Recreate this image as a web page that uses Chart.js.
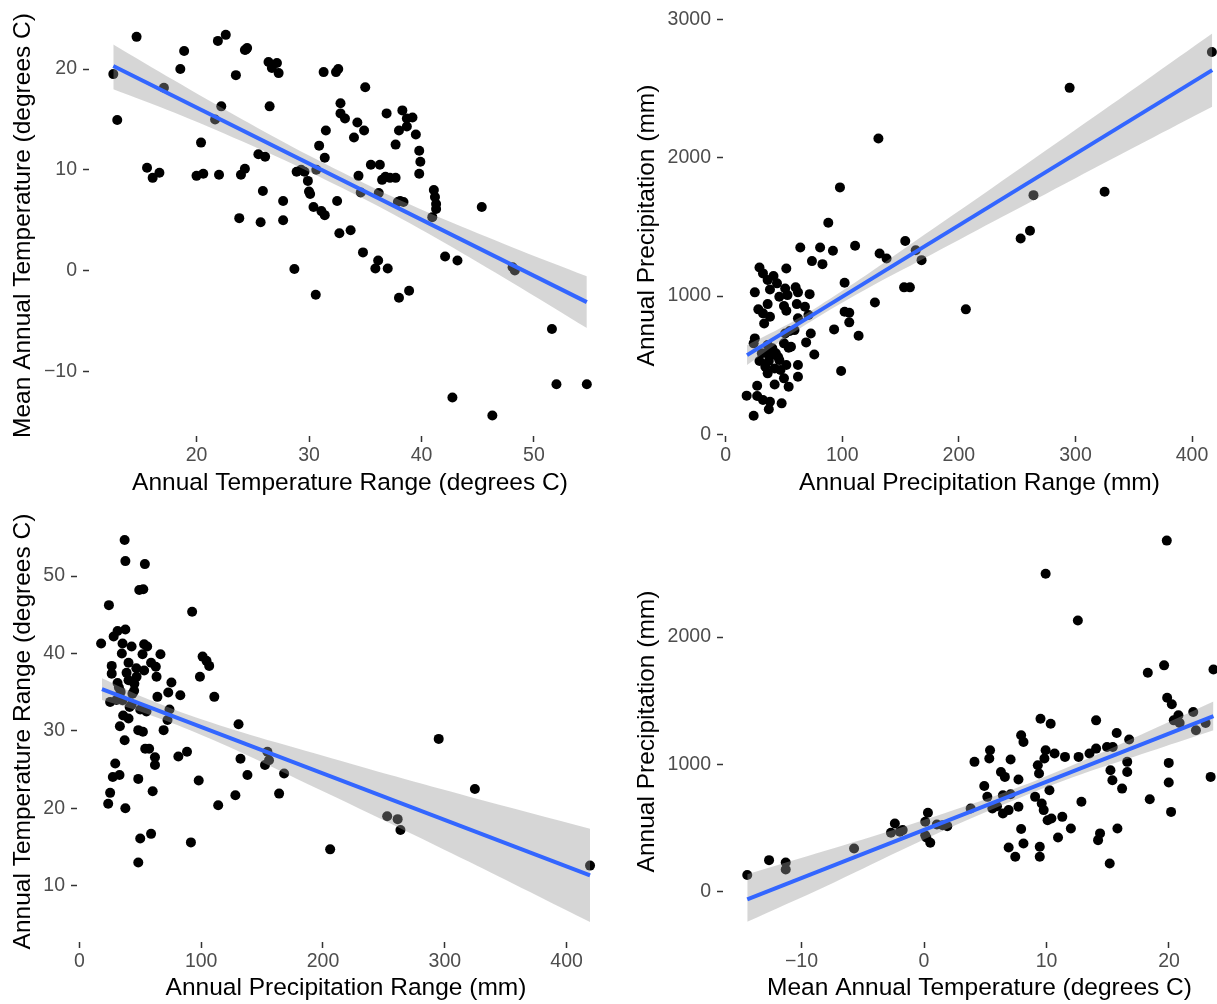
<!DOCTYPE html>
<html>
<head>
<meta charset="utf-8">
<script src="https://cdn.jsdelivr.net/npm/chart.js@4.4.1/dist/chart.umd.min.js"></script>
<style>
	html, body { margin: 0; padding: 0; background: #fff; }
	#page { position: relative; width: 1217px; height: 1004px; overflow: hidden; background: #fff; }
	#page canvas { position: absolute; }
</style>
</head>
<body>
<div id="page">
	<canvas id="panel-1" width="616" height="502" style="left:0;top:0"></canvas>
	<canvas id="panel-2" width="640" height="502" style="left:612px;top:0"></canvas>
	<canvas id="panel-3" width="620" height="502" style="left:0;top:502px"></canvas>
	<canvas id="panel-4" width="640" height="502" style="left:612px;top:502px"></canvas>
</div>
<script>
// --- panel 1: annual temperature range vs mean annual temperature ---
var p1TempRange = [
	12.6, 12.95, 14.67, 15.6, 16.1, 16.7, 17.1, 18.56, 18.9, 20.0,
	20.4, 20.6, 21.65, 21.9, 22.0, 22.2, 22.6, 23.5, 23.8, 23.95,
	24.3, 24.3, 24.5, 25.5, 25.9, 25.7, 26.1, 26.4, 26.5, 26.7,
	27.15, 27.3, 27.7, 27.7, 28.7, 28.9, 29.6, 29.9, 30.0, 30.1,
	30.4, 30.65, 30.9, 30.6, 31.1, 31.4, 31.4, 31.5, 31.3, 32.4,
	32.6, 32.5, 32.7, 32.8, 32.8, 33.2, 33.7, 34.0, 34.3, 34.4,
	34.6, 34.8, 34.9, 35.0, 35.5, 35.9, 36.2, 36.15, 36.3, 36.5,
	36.9, 37.0, 37.2, 37.7, 37.7, 37.9, 38.0, 38.3, 38.0, 38.4,
	38.7, 38.7, 38.9, 39.2, 39.5, 39.8, 39.9, 39.8, 41.1, 41.2,
	41.3, 41.3, 40.96, 42.1, 43.2, 42.75, 45.36, 46.3, 48.1, 48.3,
	51.6, 52.0, 54.7, 36.8, 38.1, 29.3, 24.4
];
var p1MeanTemp = [
	19.5, 14.95, 23.2, 10.2, 9.2, 9.7, 18.15, 20.0, 21.8, 9.4,
	12.7, 9.6, 15.0, 22.8, 9.5, 16.3, 23.4, 19.4, 5.2, 9.5,
	10.1, 21.9, 22.1, 11.55, 7.9, 4.8, 11.3, 20.7, 16.3, 20.1,
	20.6, 19.6, 6.9, 5.0, 0.15, 9.8, 9.8, 8.9, 7.85, 7.6,
	6.3, 10.0, 12.4, -2.4, 5.9, 5.5, 11.2, 13.9, 19.7, 19.7,
	20.0, 6.9, 3.7, 16.6, 15.6, 15.1, 4.0, 13.2, 14.7, 9.4,
	7.75, 1.8, 13.9, 18.2, 10.5, 0.2, 7.7, 1.0, 10.5, 9.0,
	15.6, 0.2, 9.2, 12.5, 9.2, 6.8, -2.7, 15.9, 13.9, 6.8,
	14.3, 15.1, -2.0, 15.2, 13.5, 11.9, 10.8, 9.6, 8.0, 7.3,
	6.6, 6.1, 5.3, 1.4, 1.0, -12.6, 6.3, -14.4, 0.33, 0.0,
	-5.8, -11.3, -11.3, 9.3, 6.9, 10.0, 21.95
];
var p1FitX = [12.6, 54.7];
var p1FitY = [20.3, -3.14];
var p1BandX = [12.6, 18, 24, 30, 36, 42, 48, 54.7];
var p1BandLo = [18.0, 15.69, 12.85, 9.81, 6.47, 2.78, -1.16, -5.7];
var p1BandHi = [22.45, 18.89, 15.05, 11.41, 8.07, 5.08, 2.34, -0.58];
var p1XTicks = [20, 30, 40, 50];
var p1YTicks = [-10, 0, 10, 20];

// --- panel 2: annual precipitation range vs annual precipitation ---
var p2PrecipRange = [
	417, 295, 131, 98, 325, 264, 88, 261, 253, 64,
	81, 92, 111, 154, 163, 132, 138, 168, 74, 83,
	29, 52, 32, 41, 36, 44, 102, 153, 158, 25,
	38, 51, 60, 62, 72, 46, 53, 206, 128, 102,
	106, 61, 68, 36, 50, 28, 52, 32, 38, 106,
	33, 62, 71, 93, 114, 73, 55, 51, 25, 24,
	69, 50, 54, 76, 40, 35, 29, 37, 46, 52,
	62, 34, 42, 47, 99, 36, 62, 50, 42, 54,
	27, 18, 27, 32, 38, 48, 37, 24, 43, 39,
	56, 59, 36, 31, 45
];
var p2AnnualPrecip = [
	2766, 2506, 2140, 1786, 1754, 1730, 1530, 1472, 1417, 1352,
	1352, 1328, 1364, 1398, 1332, 1308, 1272, 1260, 1253, 1231,
	1207, 1200, 1164, 1145, 1116, 1092, 1096, 1063, 1063, 1027,
	1048, 1055, 1063, 1027, 1014, 995, 1007, 904, 954, 887,
	880, 942, 923, 942, 928, 904, 894, 875, 851, 810,
	802, 839, 863, 759, 713, 730, 747, 730, 694, 658,
	665, 658, 627, 578, 622, 586, 530, 530, 537, 501,
	501, 489, 477, 465, 458, 441, 417, 405, 361, 345,
	352, 280, 277, 248, 236, 224, 181, 135, 586, 573,
	634, 754, 646, 586, 560
];
var p2FitX = [18.3, 417.3];
var p2FitY = [573, 2634];
var p2BandX = [18.3, 50, 80, 120, 170, 230, 300, 360, 417.3];
var p2BandLo = [501, 691, 853, 1048, 1271, 1541, 1853, 2118, 2369];
var p2BandHi = [645, 781, 929, 1148, 1441, 1791, 2203, 2558, 2899];
var p2XTicks = [0, 100, 200, 300, 400];
var p2YTicks = [0, 1000, 2000, 3000];

// --- panel 3: annual precipitation range vs annual temperature range ---
var p3PrecipRange = [
	37.2, 37.8, 53.8, 49.2, 52.5, 24.3, 92.6, 31.4, 37.8, 28.2,
	17.9, 35.5, 42.9, 53.2, 55.7, 34.9, 51.9, 66.6, 101.2, 104.4,
	106.6, 26.6, 40.4, 58.9, 62.8, 26.6, 38.8, 46.8, 53.2, 63.4,
	99.0, 31.4, 40.4, 45.2, 75.6, 73.0, 82.9, 110.8, 64.1, 33.9,
	43.6, 25.3, 35.5, 41.3, 50.0, 55.1, 74.0, 72.4, 130.7, 33.3,
	40.4, 48.4, 52.2, 69.2, 37.2, 295, 54.1, 57.3, 81.3, 88.4,
	62.1, 132.3, 154.4, 155.7, 152.4, 62.1, 29.5, 33.0, 27.5, 48.4,
	98.0, 138.0, 168.1, 324.7, 25.3, 60.2, 128.1, 164.0, 23.7, 37.8,
	114.0, 252.7, 261.3, 263.6, 58.9, 50.0, 91.6, 205.9, 48.4, 419.2,
	32.5, 45.0, 30.5, 47.0, 43.0, 36.0
];
var p3TempRange = [
	54.66, 51.94, 51.55, 48.2, 48.3, 46.25, 45.4, 42.9, 43.1, 42.2,
	41.3, 41.3, 40.9, 41.2, 40.9, 40.0, 39.9, 39.9, 39.6, 39.05,
	38.4, 38.4, 38.8, 38.8, 38.3, 37.4, 37.5, 38.1, 37.8, 37.0,
	37.0, 36.2, 36.55, 36.1, 36.25, 34.96, 34.6, 34.4, 34.4, 35.04,
	34.8, 33.75, 33.97, 33.1, 32.76, 32.5, 32.76, 31.4, 30.86, 30.6,
	31.6, 30.1, 29.9, 30.1, 28.8, 28.97, 27.7, 27.7, 26.7, 27.3,
	26.6, 26.4, 27.3, 26.2, 25.6, 25.6, 25.8, 24.3, 24.05, 23.8,
	23.6, 24.3, 24.5, 22.5, 22.0, 22.2, 21.7, 21.9, 20.6, 20.0,
	20.4, 18.97, 18.6, 17.2, 16.7, 16.1, 15.6, 14.7, 13.0, 12.6,
	35.6, 35.2, 34.0, 37.0, 33.4, 32.0
];
var p3FitX = [18.6, 419.2];
var p3FitY = [35.39, 11.34];
var p3BandX = [18.6, 50, 90, 140, 200, 260, 320, 419.2];
var p3BandLo = [33.99, 32.5, 30.15, 26.7, 22.2, 17.7, 13.1, 5.31];
var p3BandHi = [36.79, 34.5, 32.05, 29.5, 26.8, 24.1, 21.5, 17.37];
var p3XTicks = [0, 100, 200, 300, 400];
var p3YTicks = [10, 20, 30, 40, 50];

// --- panel 4: mean annual temperature vs annual precipitation ---
var p4MeanTemp = [
	-14.43, -12.65, -11.29, -11.29, -5.71, -2.70, -2.38, -1.97, -1.74, 0.32,
	0.10, 0.10, 0.51, 0.19, 1.05, 1.52, 1.90, 3.81, 4.12, 4.92,
	5.17, 5.39, 5.33, 5.58, 5.96, 6.28, 6.60, 6.44, 6.44, 6.91,
	7.07, 7.07, 6.91, 7.45, 7.71, 7.71, 7.93, 8.12, 7.93, 8.12,
	9.07, 9.29, 9.45, 9.45, 9.51, 9.39, 9.61, 9.77, 9.93, 9.93,
	9.83, 10.24, 10.34, 10.09, 10.40, 10.66, 10.94, 11.29, 11.51, 11.99,
	12.56, 12.62, 12.85, 13.51, 14.05, 14.05, 14.21, 14.37, 14.94, 15.22,
	15.38, 15.41, 15.16, 15.73, 15.79, 16.17, 16.59, 16.59, 16.75, 18.27,
	18.43, 19.6, 19.82, 19.85, 20.23, 19.98, 19.98, 20.17, 20.39, 20.77,
	20.87, 21.98, 22.2, 22.99, 23.4, 23.63
];
var p4AnnualPrecip = [
	131, 248, 230, 175, 340, 463, 536, 471, 484, 620,
	549, 444, 384, 426, 528, 523, 515, 654, 1020, 831,
	745, 1111, 1046, 654, 672, 941, 902, 758, 614, 641,
	1038, 766, 348, 275, 881, 667, 1229, 1176, 492, 379,
	745, 993, 353, 275, 1359, 928, 693, 641, 2497, 1111,
	1046, 797, 1320, 562, 575, 1085, 426, 588, 1059, 497,
	2131, 1059, 706, 1085, 1346, 1124, 405, 458, 1137, 954,
	876, 1137, 222, 1247, 497, 810, 1020, 941, 1195, 1720,
	727, 1778, 2758, 1524, 1472, 1012, 858, 627, 1346, 1386,
	1325, 1412, 1268, 1325, 902, 1746
];
var p4FitX = [-14.43, 23.63];
var p4FitY = [-60, 1380];
var p4BandX = [-14.43, -8, -2, 4, 9, 14, 19, 23.63];
var p4BandLo = [-236, 43, 320, 582, 784, 961, 1120, 1268];
var p4BandHi = [137, 323, 500, 692, 868, 1071, 1290, 1495];
var p4XTicks = [-10, 0, 10, 20];
var p4YTicks = [0, 1000, 2000];

Chart.defaults.font.family = "'Liberation Sans', Arial, Helvetica, sans-serif";

function pares(xs, ys) {
	return xs.map(function (x, i) { return { x: x, y: ys[i] }; });
}

function etiqueta(v) {
	return v < 0 ? '\u2212' + Math.abs(v) : String(v);
}

function ejeBase(ticks, lim, ajuste) {
	return {
		type: 'linear',
		min: lim[0],
		max: lim[1],
		afterBuildTicks: function (scale) {
			scale.ticks = ticks.map(function (v) { return { value: v }; });
		},
		afterFit: ajuste,
		grid: {
			drawOnChartArea: false,
			drawTicks: true,
			tickLength: 6,
			tickWidth: 1.5,
			tickColor: '#333333',
			color: '#333333',
		},
		border: { display: false },
		ticks: {
			color: '#4D4D4D',
			font: { size: 19.5 },
			autoSkip: false,
			maxRotation: 0,
			callback: etiqueta,
		},
	};
}

function crearPanel(id, p) {
	var ejeX = ejeBase(p.xTicks, p.xLim, function (scale) {
		scale.height = p.xAxisH;
		scale.paddingLeft = 0;
		scale.paddingRight = 0;
	});
	ejeX.ticks.padding = 2;
	ejeX.title = { display: true, text: p.xTitle, color: '#000', font: { size: 24.5 }, padding: { top: 0, bottom: p.xTitlePad } };

	var ejeY = ejeBase(p.yTicks, p.yLim, function (scale) {
		scale.width = p.yAxisW;
		scale.paddingTop = 0;
		scale.paddingBottom = 0;
	});
	ejeY.ticks.padding = 6;
	ejeY.title = { display: true, text: p.yTitle, color: '#000', font: { size: 24.5 }, padding: { top: p.yTitlePad, bottom: 0 } };

	return new Chart(document.getElementById(id), {
		type: 'scatter',
		data: {
			datasets: [
				{
					data: pares(p.fitX, p.fitY),
					showLine: true,
					borderColor: '#3366FF',
					borderWidth: 4,
					pointRadius: 0,
					order: 0,
				},
				{
					data: pares(p.bandX, p.bandHi),
					showLine: true,
					borderWidth: 0,
					borderColor: 'rgba(0,0,0,0)',
					pointRadius: 0,
					fill: '+1',
					backgroundColor: 'rgba(153,153,153,0.4)',
					tension: 0.3,
					order: 1,
				},
				{
					data: pares(p.bandX, p.bandLo),
					showLine: true,
					borderWidth: 0,
					borderColor: 'rgba(0,0,0,0)',
					pointRadius: 0,
					fill: false,
					tension: 0.3,
					order: 1,
				},
				{
					data: pares(p.xs, p.ys),
					pointRadius: 5,
					pointBackgroundColor: '#000000',
					pointBorderWidth: 0,
					order: 2,
				},
			],
		},
		options: {
			responsive: false,
			animation: false,
			layout: { padding: { top: p.padTop, right: p.padRight, left: 0, bottom: 0 } },
			plugins: { legend: { display: false }, tooltip: { enabled: false } },
			scales: { x: ejeX, y: ejeY },
		},
	});
}

crearPanel('panel-1', {
	xs: p1TempRange, ys: p1MeanTemp,
	fitX: p1FitX, fitY: p1FitY, bandX: p1BandX, bandLo: p1BandLo, bandHi: p1BandHi,
	xTicks: p1XTicks, yTicks: p1YTicks,
	xLim: [10.44, 56.85], yLim: [-16.43, 25.37],
	xTitle: 'Annual Temperature Range (degrees C)', yTitle: 'Mean Annual Temperature (degrees C)',
	yAxisW: 89, xAxisH: 66, padTop: 15, padRight: 4, yTitlePad: 9, xTitlePad: 4,
});

crearPanel('panel-2', {
	xs: p2PrecipRange, ys: p2AnnualPrecip,
	fitX: p2FitX, fitY: p2FitY, bandX: p2BandX, bandLo: p2BandLo, bandHi: p2BandHi,
	xTicks: p2XTicks, yTicks: p2YTicks,
	xLim: [-2.3, 437.7], yLim: [-12, 3033],
	xTitle: 'Annual Precipitation Range (mm)', yTitle: 'Annual Precipitation (mm)',
	yAxisW: 111, xAxisH: 66, padTop: 15, padRight: 16, yTitlePad: 21, xTitlePad: 4,
});

crearPanel('panel-3', {
	xs: p3PrecipRange, ys: p3TempRange,
	fitX: p3FitX, fitY: p3FitY, bandX: p3BandX, bandLo: p3BandLo, bandHi: p3BandHi,
	xTicks: p3XTicks, yTicks: p3YTicks,
	xLim: [-1.9, 439.7], yLim: [2.73, 57.12],
	xTitle: 'Annual Precipitation Range (mm)', yTitle: 'Annual Temperature Range (degrees C)',
	yAxisW: 77, xAxisH: 62, padTop: 19, padRight: 4, yTitlePad: 9, xTitlePad: 1,
});

crearPanel('panel-4', {
	xs: p4MeanTemp, ys: p4AnnualPrecip,
	fitX: p4FitX, fitY: p4FitY, bandX: p4BandX, bandLo: p4BandLo, bandHi: p4BandHi,
	xTicks: p4XTicks, yTicks: p4YTicks,
	xLim: [-16.41, 25.47], yLim: [-395, 2912],
	xTitle: 'Mean Annual Temperature (degrees C)', yTitle: 'Annual Precipitation (mm)',
	yAxisW: 111, xAxisH: 62, padTop: 19, padRight: 16, yTitlePad: 21, xTitlePad: 1,
});
</script>
</body>
</html>
